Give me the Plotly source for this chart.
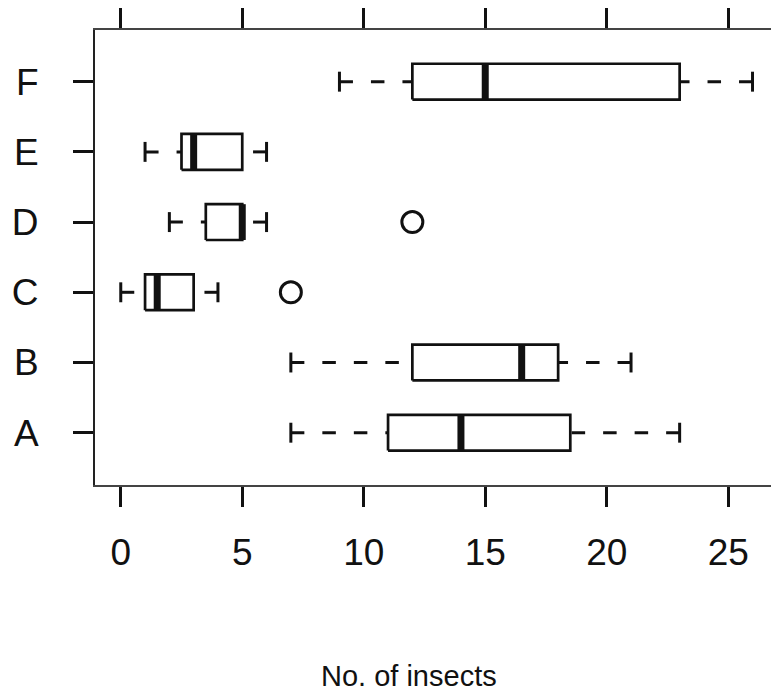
import plotly.graph_objects as go

# ---- data ----
groups = ["A", "B", "C", "D", "E", "F"]
whisker_low = [7, 7, 0, 2, 1, 9]
q1 = [11, 12, 1, 3.5, 2.5, 12]
median = [14, 16.5, 1.5, 5, 3, 15]
q3 = [18.5, 18, 3, 5, 5, 23]
whisker_high = [23, 21, 4, 6, 6, 26]
outlier_group = ["C", "D"]
outlier_value = [7, 12]
x_ticks = [0, 5, 10, 15, 20, 25]
x_title = "No. of insects"

# ---- style ----
FONT = "Liberation Sans, Arial, Helvetica, sans-serif"
INK = "#111111"
BOX_HALF = 0.255
CAP_HALF = 0.142
DASH = "13.5px,18px"

pos = {g: i + 1 for i, g in enumerate(groups)}

fig = go.Figure()

for i, g in enumerate(groups):
    p = pos[g]
    # dashed whiskers, drawn from whisker end toward the box
    for end, edge in ((whisker_low[i], q1[i]), (whisker_high[i], q3[i])):
        if end != edge:
            fig.add_trace(go.Scatter(
                x=[end, edge], y=[p, p], mode="lines",
                line=dict(color=INK, width=3, dash=DASH),
                hoverinfo="skip", showlegend=False))
        # whisker caps
        fig.add_trace(go.Scatter(
            x=[end, end], y=[p - CAP_HALF, p + CAP_HALF], mode="lines",
            line=dict(color=INK, width=3),
            hoverinfo="skip", showlegend=False))
    # box
    fig.add_trace(go.Scatter(
        x=[q1[i], q3[i], q3[i], q1[i], q1[i]],
        y=[p - BOX_HALF, p - BOX_HALF, p + BOX_HALF, p + BOX_HALF, p - BOX_HALF],
        mode="lines", fill="toself", fillcolor="white",
        line=dict(color=INK, width=2.7),
        hoverinfo="skip", showlegend=False))
    # median
    fig.add_trace(go.Scatter(
        x=[median[i], median[i]], y=[p - BOX_HALF, p + BOX_HALF], mode="lines",
        line=dict(color=INK, width=7),
        hoverinfo="skip", showlegend=False))

# outliers
fig.add_trace(go.Scatter(
    x=outlier_value, y=[pos[g] for g in outlier_group], mode="markers",
    marker=dict(symbol="circle-open", size=21, color=INK, line=dict(width=3)),
    hoverinfo="skip", showlegend=False))

fig.update_layout(
    width=771, height=692,
    margin=dict(l=95, r=0, t=30, b=207),
    paper_bgcolor="white", plot_bgcolor="white",
    font=dict(family=FONT, color=INK),
    showlegend=False,
    xaxis=dict(
        range=[-1.06, 26.76], tickvals=x_ticks, ticktext=[str(v) for v in x_ticks],
        showgrid=False, zeroline=False,
        showline=True, linecolor="#444444", linewidth=2, mirror="ticks",
        ticks="outside", ticklen=20, tickwidth=2.5, tickcolor=INK,
        tickfont=dict(size=37, family=FONT, color=INK),
        ticklabelstandoff=14,
    ),
    yaxis=dict(
        range=[0.255, 6.736], tickvals=[pos[g] for g in groups], ticktext=groups,
        showgrid=False, zeroline=False,
        showline=True, linecolor="#222222", linewidth=2, mirror=False,
        ticks="outside", ticklen=20, tickwidth=2.5, tickcolor=INK,
        tickfont=dict(size=37, family=FONT, color=INK),
        ticklabelstandoff=27,
    ),
    annotations=[dict(
        text=x_title, xref="paper", yref="paper", x=0.4645, y=-0.42,
        xanchor="center", yanchor="middle", showarrow=False,
        font=dict(size=29, family=FONT, color=INK))],
)

fig.write_html("out.html")
